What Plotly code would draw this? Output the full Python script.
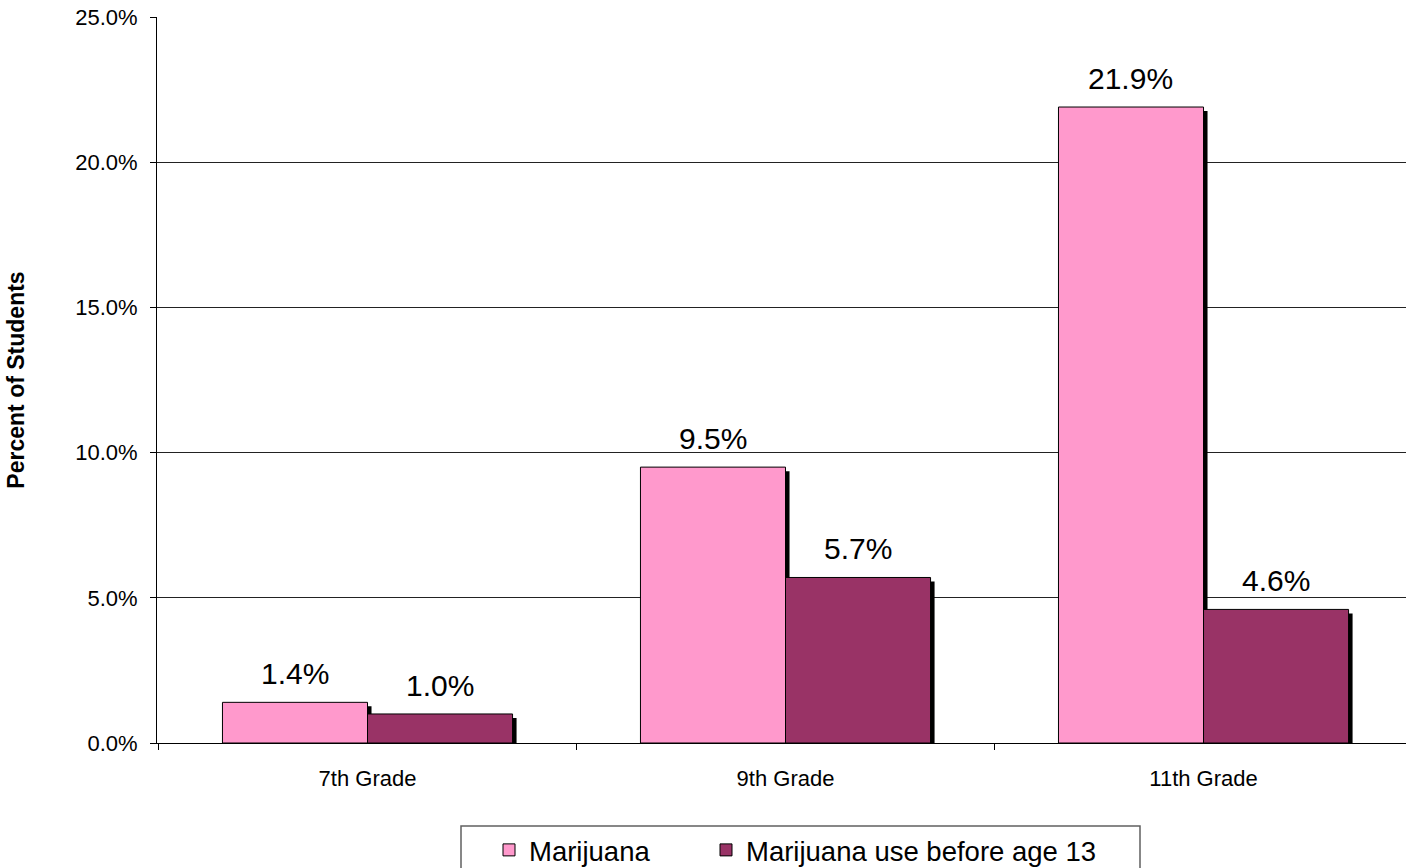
import plotly.graph_objects as go

categories = ["7th Grade", "9th Grade", "11th Grade"]
marijuana = [1.4, 9.5, 21.9]
before13 = [1.0, 5.7, 4.6]
series_names = ["Marijuana", "Marijuana use before age 13"]
y_ticks = [0, 5, 10, 15, 20, 25]

FONT = "Arial, Liberation Sans, sans-serif"
PINK = "#FF99CC"
PLUM = "#993366"
BW = 0.347           # bar width (category units)
SHX = 0.0096         # shadow x shift (category units, ~4px)
SHY = 0.138          # shadow drop (data units, ~4px)
L, R, T, B = 157, 0, 17, 125
W, H = 1406, 868
PW, PH = W - L - R, H - T - B

def px_x(p):
    return (p - L) / PW

def px_y(p):
    return (H - B - p) / PH

fig = go.Figure()

# shadows
for vals, off in [(marijuana, -BW), (before13, 0.0)]:
    fig.add_trace(go.Bar(
        x=categories, y=[v - SHY for v in vals], offset=off + SHX, width=BW,
        marker=dict(color="black", line=dict(width=0)),
        showlegend=False, hoverinfo="skip"))

for vals, off, col, name, lg in [(marijuana, -BW, PINK, series_names[0], "legend"),
                                 (before13, 0.0, PLUM, series_names[1], "legend2")]:
    fig.add_trace(go.Bar(
        x=categories, y=vals, offset=off, width=BW, name=name, legend=lg,
        marker=dict(color=col, line=dict(color="black", width=1))))
    for c, v in zip(categories, vals):
        fig.add_annotation(
            x=c, y=v, text=f"{v:.1f}%", showarrow=False,
            xshift=(off + BW / 2) * 418, yshift=10, yanchor="bottom",
            font=dict(family=FONT, size=30, color="black"))

leg_common = dict(orientation="h", yanchor="middle", y=px_y(850), xanchor="left",
                  bgcolor="rgba(0,0,0,0)", borderwidth=0,
                  font=dict(family=FONT, size=27.5, color="black"))

fig.add_shape(type="rect", xref="paper", yref="paper",
              x0=px_x(461), x1=px_x(1140), y0=px_y(826), y1=px_y(880),
              line=dict(color="#606060", width=1.5), fillcolor="white", layer="below")

fig.update_layout(
    width=W, height=H,
    margin=dict(l=L, r=R, t=T, b=B, autoexpand=False),
    barmode="overlay",
    plot_bgcolor="rgba(0,0,0,0)", paper_bgcolor="white",
    font=dict(family=FONT, color="black"),
    showlegend=True,
    legend=dict(x=px_x(489), **leg_common),
    legend2=dict(x=px_x(706), **leg_common),
    xaxis=dict(
        type="category", range=[-0.5036, 2.4844], automargin=False,
        showline=True, linecolor="black", linewidth=1,
        ticks="outside", tickson="boundaries", ticklen=6, tickcolor="black",
        ticklabelstandoff=16,
        tickfont=dict(family=FONT, size=22, color="black"),
        showgrid=False),
    yaxis=dict(
        range=[0, 25], tickvals=y_ticks, automargin=False,
        ticktext=[f"{t:.1f}%" for t in y_ticks],
        showline=True, linecolor="black", linewidth=1,
        ticks="outside", ticklen=6, tickcolor="black",
        ticklabelstandoff=8,
        tickfont=dict(family=FONT, size=22, color="black"),
        showgrid=True, gridcolor="#222222", gridwidth=1,
        zeroline=False,
        title=dict(text="<b>Percent of Students</b>", standoff=44,
                   font=dict(family=FONT, size=23, color="black"))),
)

fig.write_html("out.html", config={"displayModeBar": False},
               post_script="document.body.style.margin='0px';")
